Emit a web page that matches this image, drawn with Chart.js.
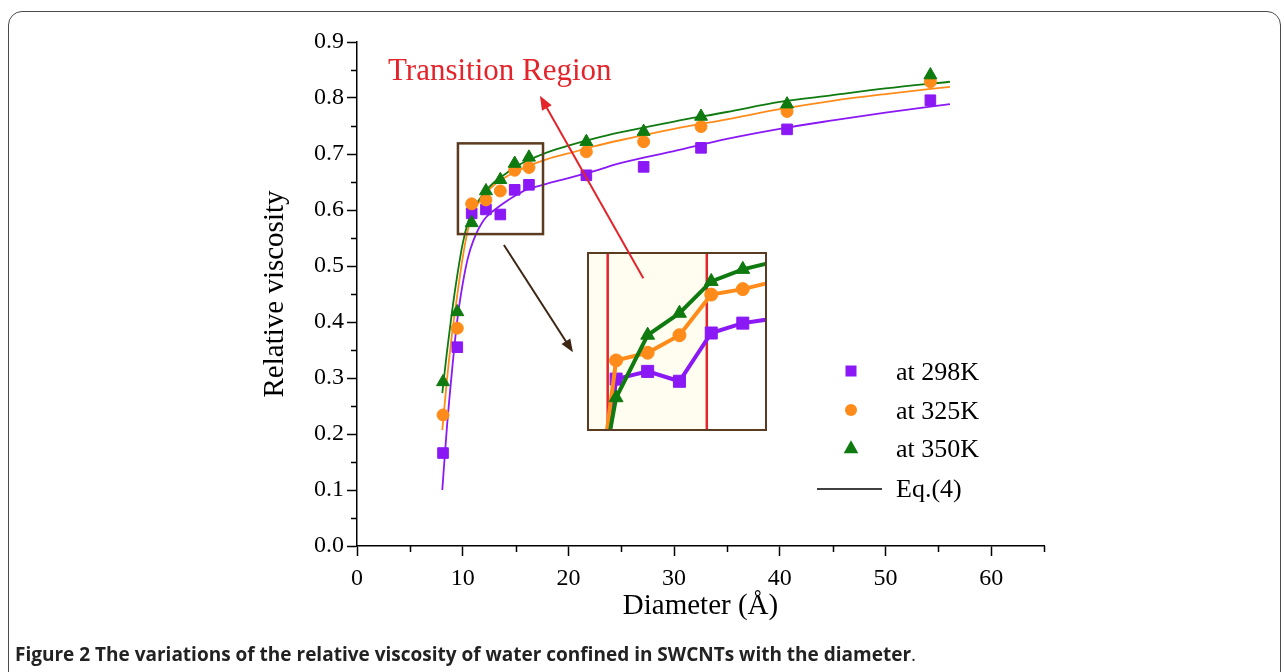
<!DOCTYPE html>
<html>
<head>
<meta charset="utf-8">
<script src="https://cdn.jsdelivr.net/npm/chart.js@4.4.1/dist/chart.umd.min.js"></script>
<style>
html, body { margin:0; padding:0; background:#fff; }
body { width:1284px; height:672px; overflow:hidden; position:relative; }
#frame { position:absolute; left:8px; top:11px; width:1273px; height:720px; border:1.5px solid #4a4a4a; border-radius:14px; box-sizing:border-box; z-index:0; }
#insetBox { position:absolute; border:2.5px solid #5b3c20; background:#fff; z-index:1; }
#inset { display:block; }
#main { position:absolute; left:0; top:0; z-index:2; }
#caption { position:absolute; left:15px; top:641px; font-family:"Open Sans", sans-serif; font-weight:bold; font-size:19px; color:#222; white-space:nowrap; z-index:3; }
</style>
</head>
<body>
<div id="frame"></div>
<div id="insetBox"><canvas id="inset"></canvas></div>
<canvas id="main" width="1284" height="672"></canvas>
<div id="caption">Figure 2 The variations of the relative viscosity of water confined in SWCNTs with the diameter<span style="font-weight:normal">.</span></div>
<script>
// simulated points (diameter in Angstrom)
var diameters = [8.14, 9.49, 10.85, 12.20, 13.56, 14.92, 16.27, 21.70, 27.12, 32.55, 40.69, 54.25];
var visc298 = [0.166, 0.355, 0.594, 0.601, 0.592, 0.636, 0.645, 0.662, 0.677, 0.711, 0.744, 0.796];
var visc325 = [0.234, 0.389, 0.611, 0.618, 0.634, 0.671, 0.676, 0.704, 0.722, 0.749, 0.776, 0.829];
var visc350 = [0.293, 0.418, 0.577, 0.634, 0.654, 0.683, 0.694, 0.722, 0.740, 0.767, 0.789, 0.841];

// Eq.(4) curves
var fitDiameters = [8.07, 8.5, 9, 9.5, 10, 10.5, 11, 12, 13, 14, 15, 16, 18, 20, 22.5, 25, 30, 35, 40, 45, 50, 56.1];
var fit298 = [0.100, 0.210, 0.315, 0.405, 0.468, 0.515, 0.545, 0.582, 0.600, 0.614, 0.626, 0.636, 0.647, 0.657, 0.670, 0.684, 0.705, 0.727, 0.745, 0.760, 0.774, 0.789];
var fit325 = [0.207, 0.295, 0.380, 0.450, 0.515, 0.565, 0.595, 0.626, 0.645, 0.658, 0.668, 0.677, 0.691, 0.701, 0.714, 0.725, 0.745, 0.762, 0.780, 0.795, 0.807, 0.820];
var fit350 = [0.273, 0.345, 0.420, 0.485, 0.540, 0.578, 0.601, 0.630, 0.650, 0.664, 0.677, 0.687, 0.703, 0.715, 0.728, 0.739, 0.758, 0.775, 0.793, 0.805, 0.817, 0.829];

var seriesNames = ['at 298K', 'at 325K', 'at 350K'];
var fitName = 'Eq.(4)';

// annotation places, in data units
var boxX = [9.55, 17.6], boxY = [0.557, 0.719];
var insetX = [21.76, 38.88], insetY = [0.2036, 0.525];
var insetViewX = [9.69, 17.22], insetViewY = [0.5485, 0.708];
var transitionX = [10.49, 14.73];
var redArrow = [[27.09, 0.478], [17.31, 0.804]];
var brownArrow = [[13.9, 0.5375], [20.43, 0.346]];
var labelPos = [2.93, 0.846];

var purple = '#8a19f5', orange = '#ff8c1a', green = '#0f7a0f';
var serif = "'Liberation Serif', 'Times New Roman', serif";

function pts(xs, ys) {
  return xs.map(function(x, i) { return {x: x, y: ys[i]}; });
}

function arrow(ctx, x0, y0, x1, y1, color, w, head) {
  var a = Math.atan2(y1 - y0, x1 - x0);
  ctx.save();
  ctx.strokeStyle = color;
  ctx.fillStyle = color;
  ctx.lineWidth = w;
  ctx.beginPath();
  ctx.moveTo(x0, y0);
  ctx.lineTo(x1 - Math.cos(a) * head * 0.8, y1 - Math.sin(a) * head * 0.8);
  ctx.stroke();
  ctx.beginPath();
  ctx.moveTo(x1, y1);
  ctx.lineTo(x1 - head * Math.cos(a) + head * 0.4 * Math.sin(a), y1 - head * Math.sin(a) - head * 0.4 * Math.cos(a));
  ctx.lineTo(x1 - head * Math.cos(a) - head * 0.4 * Math.sin(a), y1 - head * Math.sin(a) + head * 0.4 * Math.cos(a));
  ctx.closePath();
  ctx.fill();
  ctx.restore();
}

function marker(ctx, kind, x, y, r, color) {
  ctx.fillStyle = color;
  ctx.beginPath();
  if (kind === 'rect') {
    ctx.rect(x - r, y - r, 2 * r, 2 * r);
  } else if (kind === 'circle') {
    ctx.arc(x, y, r, 0, Math.PI * 2);
  } else {
    ctx.moveTo(x, y - r * 1.1);
    ctx.lineTo(x + r * 1.05, y + r * 0.75);
    ctx.lineTo(x - r * 1.05, y + r * 0.75);
    ctx.closePath();
  }
  ctx.fill();
}

var decor = {
  id: 'decor',
  afterDatasetsDraw: function(chart) {
    var ctx = chart.ctx, xs = chart.scales.x, ys = chart.scales.y;
    var area = chart.chartArea;
    ctx.save();
    // minor ticks
    ctx.strokeStyle = '#000';
    ctx.lineWidth = 1.5;
    ctx.beginPath();
    for (var v = 0.05; v < 0.9; v += 0.1) {
      var py = Math.round(ys.getPixelForValue(v)) + 0.5;
      ctx.moveTo(area.left, py); ctx.lineTo(area.left - 6, py);
    }
    for (var u = 5; u <= 65; u += 10) {
      var px = Math.round(xs.getPixelForValue(u)) + 0.5;
      ctx.moveTo(px, area.bottom); ctx.lineTo(px, area.bottom + 6);
    }
    ctx.stroke();
    // box around the transition cluster
    ctx.strokeStyle = '#5b3c20';
    ctx.lineWidth = 2.5;
    var bx0 = xs.getPixelForValue(boxX[0]), bx1 = xs.getPixelForValue(boxX[1]);
    var by0 = ys.getPixelForValue(boxY[1]), by1 = ys.getPixelForValue(boxY[0]);
    ctx.strokeRect(bx0, by0, bx1 - bx0, by1 - by0);
    // arrows
    arrow(ctx, xs.getPixelForValue(brownArrow[0][0]), ys.getPixelForValue(brownArrow[0][1]),
      xs.getPixelForValue(brownArrow[1][0]), ys.getPixelForValue(brownArrow[1][1]), '#3d2614', 2, 13);
    arrow(ctx, xs.getPixelForValue(redArrow[0][0]), ys.getPixelForValue(redArrow[0][1]),
      xs.getPixelForValue(redArrow[1][0]), ys.getPixelForValue(redArrow[1][1]), '#e3242b', 2, 14);
    // label
    ctx.fillStyle = '#e3242b';
    ctx.font = '31px ' + serif;
    ctx.textBaseline = 'middle';
    ctx.textAlign = 'left';
    ctx.fillText('Transition Region', xs.getPixelForValue(labelPos[0]), ys.getPixelForValue(labelPos[1]));
    // legend
    var lx = 851, tx = 896, rows = [371, 410, 448, 489];
    marker(ctx, 'rect', lx, rows[0], 5.5, purple);
    marker(ctx, 'circle', lx, rows[1], 6, orange);
    marker(ctx, 'tri', lx, rows[2], 7, green);
    ctx.strokeStyle = '#000';
    ctx.lineWidth = 1.5;
    ctx.beginPath(); ctx.moveTo(817, rows[3]); ctx.lineTo(882, rows[3]); ctx.stroke();
    ctx.fillStyle = '#000';
    ctx.font = '26px ' + serif;
    ctx.fillText(seriesNames[0], tx, rows[0] + 2);
    ctx.fillText(seriesNames[1], tx, rows[1] + 2);
    ctx.fillText(seriesNames[2], tx, rows[2] + 2);
    ctx.fillText(fitName, tx, rows[3] + 1);
    ctx.restore();
  }
};

function markerSet(label, ys, color, style, r, order) {
  return {
    label: label, data: pts(diameters, ys), showLine: false,
    pointStyle: style, pointRadius: r, pointBackgroundColor: color,
    pointBorderColor: color, pointBorderWidth: 1, order: order
  };
}
function fitSet(ys, color) {
  return {
    label: fitName, data: pts(fitDiameters, ys), showLine: true, pointRadius: 0,
    borderColor: color, borderWidth: 1.8, cubicInterpolationMode: 'monotone', order: 3
  };
}

var tickFont = {family: serif, size: 24};
var mainChart = new Chart(document.getElementById('main').getContext('2d'), {
  type: 'line',
  data: {
    datasets: [
      markerSet(seriesNames[2], visc350, green, 'triangle', 7.5, 0),
      markerSet(seriesNames[1], visc325, orange, 'circle', 6, 1),
      markerSet(seriesNames[0], visc298, purple, 'rect', 7.5, 2),
      fitSet(fit350, green),
      fitSet(fit325, orange),
      fitSet(fit298, purple)
    ]
  },
  options: {
    responsive: false,
    animation: false,
    events: [],
    layout: {padding: {left: 254, top: 42, right: 240, bottom: 44}, autoPadding: false},
    plugins: {legend: {display: false}, tooltip: {enabled: false}},
    scales: {
      x: {
        type: 'linear', min: 0, max: 65, bounds: 'data',
        ticks: {stepSize: 10, font: tickFont, color: '#000', padding: 8, maxRotation: 0},
        afterBuildTicks: function(s) { s.ticks = s.ticks.filter(function(t) { return t.value <= 60; }); },
        grid: {drawOnChartArea: false, drawTicks: true, tickLength: 10, color: '#000', tickWidth: 1.5},
        border: {color: '#000', width: 1.5},
        title: {display: true, text: 'Diameter (Å)', color: '#000', font: {family: serif, size: 29}, padding: {top: 4, bottom: 4}},
        afterFit: function(s) { s.height = 82; }
      },
      y: {
        type: 'linear', min: 0, max: 0.9,
        ticks: {stepSize: 0.1, font: tickFont, color: '#000', padding: 3,
          callback: function(v) { return v.toFixed(1); }},
        grid: {drawOnChartArea: false, drawTicks: true, tickLength: 10, color: '#000', tickWidth: 1.5},
        border: {color: '#000', width: 1.5},
        title: {display: true, text: 'Relative viscosity', color: '#000', font: {family: serif, size: 29}, padding: {top: 4, bottom: 4}},
        afterFit: function(s) { s.width = 103; }
      }
    }
  },
  plugins: [decor]
});

// magnified view of the transition region
var mx = mainChart.scales.x, my = mainChart.scales.y;
var boxLeft = Math.round(mx.getPixelForValue(insetX[0]));
var boxRight = Math.round(mx.getPixelForValue(insetX[1]));
var boxTop = Math.round(my.getPixelForValue(insetY[1]));
var boxBottom = Math.round(my.getPixelForValue(insetY[0]));
var insetBox = document.getElementById('insetBox');
insetBox.style.left = boxLeft + 'px';
insetBox.style.top = boxTop + 'px';
var insetCanvas = document.getElementById('inset');
insetCanvas.width = boxRight - boxLeft - 5;
insetCanvas.height = boxBottom - boxTop - 5;

var insetDecor = {
  id: 'insetDecor',
  beforeDatasetsDraw: function(chart) {
    var ctx = chart.ctx, xs = chart.scales.x, area = chart.chartArea;
    var r0 = xs.getPixelForValue(transitionX[0]), r1 = xs.getPixelForValue(transitionX[1]);
    ctx.save();
    ctx.fillStyle = '#fffdf0';
    ctx.fillRect(area.left, area.top, r1 - area.left, area.bottom - area.top);
    ctx.strokeStyle = '#e3242b';
    ctx.lineWidth = 2.5;
    ctx.beginPath();
    ctx.moveTo(r0, area.top); ctx.lineTo(r0, area.bottom);
    ctx.moveTo(r1, area.top); ctx.lineTo(r1, area.bottom);
    ctx.stroke();
    ctx.restore();
  }
};

function insetSet(label, ys, color, style, r, order) {
  return {
    label: label, data: pts(diameters, ys), showLine: true, borderColor: color, borderWidth: 4,
    pointStyle: style, pointRadius: r, pointBackgroundColor: color, pointBorderColor: color,
    pointBorderWidth: 1, order: order, clip: 0
  };
}

new Chart(insetCanvas.getContext('2d'), {
  type: 'line',
  data: {
    datasets: [
      insetSet(seriesNames[2], visc350, green, 'triangle', 8, 0),
      insetSet(seriesNames[1], visc325, orange, 'circle', 6.5, 1),
      insetSet(seriesNames[0], visc298, purple, 'rect', 8.5, 2)
    ]
  },
  options: {
    responsive: false,
    animation: false,
    events: [],
    layout: {padding: 0, autoPadding: false},
    plugins: {legend: {display: false}, tooltip: {enabled: false}},
    scales: {
      x: {type: 'linear', min: insetViewX[0], max: insetViewX[1], display: false},
      y: {type: 'linear', min: insetViewY[0], max: insetViewY[1], display: false}
    }
  },
  plugins: [insetDecor]
});
</script>
</body>
</html>
